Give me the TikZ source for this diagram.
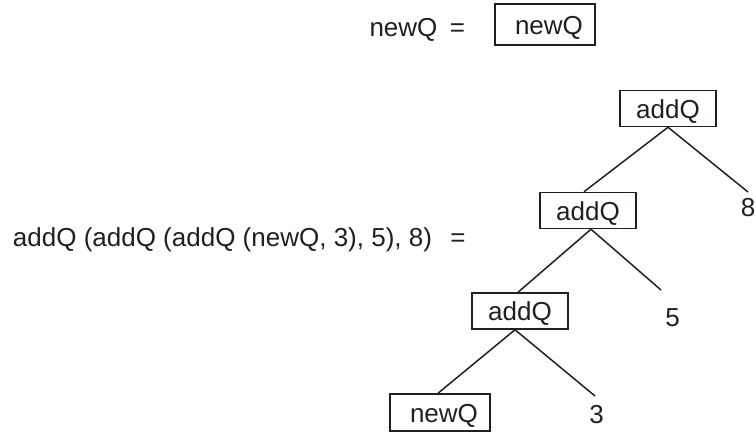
\documentclass[tikz,border=0pt]{standalone}
\usepackage{fontspec}
\setmainfont{Liberation Sans}
\definecolor{ink}{HTML}{231F20}
\begin{document}
\begin{tikzpicture}[x=1pt,y=-1pt,
  txt/.style={font=\fontsize{26}{30}\selectfont, inner sep=0pt, text height=19pt, text depth=0pt, text=ink},
  abox/.style={txt, draw=ink, line width=1.5pt, minimum width=96pt, minimum height=36pt},
  nbox/.style={txt, draw=ink, line width=1.5pt, minimum width=100pt},
  edge/.style={draw=ink, line width=1.5pt}]
\useasboundingbox (0,0) rectangle (756,432);
% first equation
\node[txt] (lnew) at (403.5,27) {newQ};
\node[txt] (eq1) at (457.5,27) {=};
\node[nbox, minimum height=41pt] (bnew) at (545,24.5) {\hskip 8pt newQ};
% second equation
\node[txt] (lexpr) at (222.5,237) {addQ (addQ (addQ (newQ, 3), 5), 8)};
\node[txt] (eq2) at (458,237) {=};
\node[abox] (top) at (668,108.5) {addQ};
\node[abox] (mid) at (588,210.5) {addQ};
\node[abox] (low) at (520,311) {addQ};
\node[nbox, minimum height=37pt] (leaf) at (440,412.5) {\hskip 8pt newQ};
\node[txt] (n8) at (748,207) {8};
\node[txt] (n5) at (672.5,316.5) {5};
\node[txt] (n3) at (596.5,414) {3};
\coordinate (e8) at (748,192);
\coordinate (e5) at (661,290);
\coordinate (e3) at (595,396);
\draw[edge] (top.south) -- ([xshift=-4pt]mid.north);
\draw[edge] (top.south) -- (e8);
\draw[edge] ([xshift=3pt]mid.south) -- ([xshift=-2pt]low.north);
\draw[edge] ([xshift=3pt]mid.south) -- (e5);
\draw[edge] ([xshift=-5pt]low.south) -- ([xshift=-2pt]leaf.north);
\draw[edge] ([xshift=-5pt]low.south) -- (e3);
\end{tikzpicture}
\end{document}
